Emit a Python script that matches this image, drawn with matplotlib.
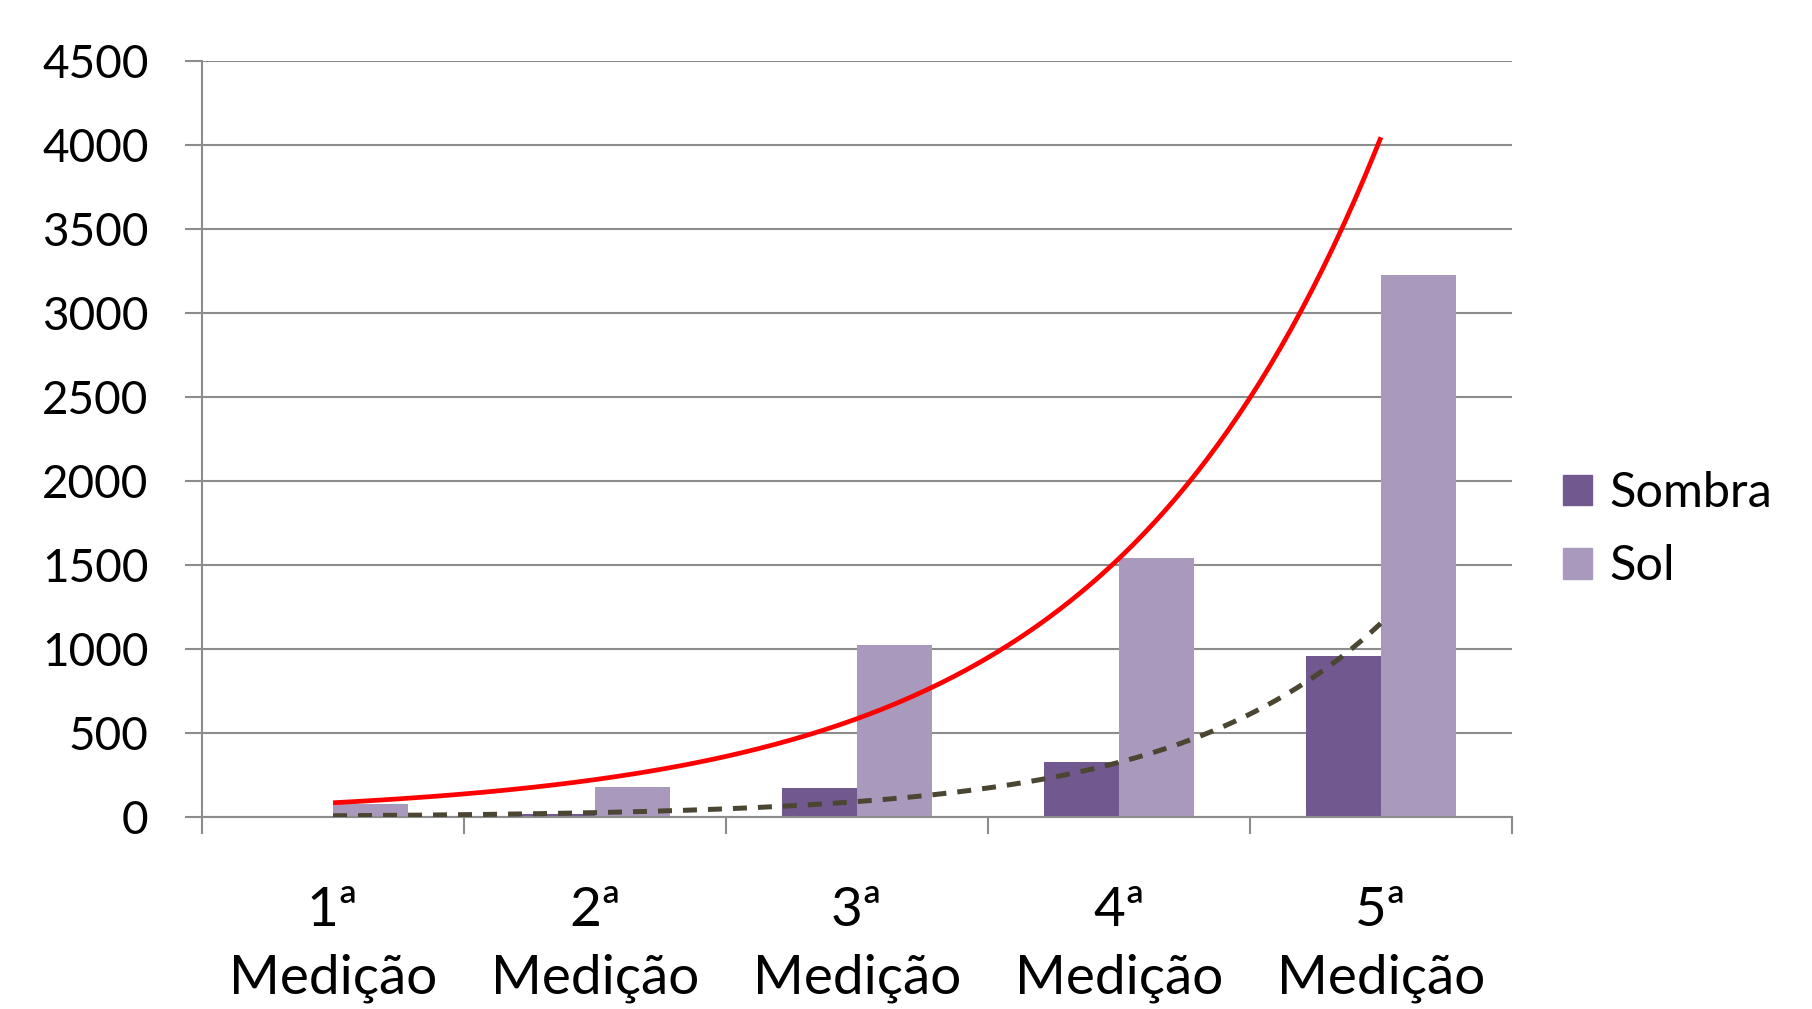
import numpy as np
import matplotlib
matplotlib.use("Agg")
import matplotlib.pyplot as plt
from matplotlib.patches import Patch
from matplotlib.ticker import FixedLocator, NullFormatter

plt.rcParams["font.family"] = ["Lato", "DejaVu Sans"]

# dados
categorias = ["1ª\nMedição", "2ª\nMedição", "3ª\nMedição", "4ª\nMedição", "5ª\nMedição"]
sombra = [8, 15, 172, 328, 960]
sol = [75, 180, 1025, 1540, 3225]
yticks = [0, 500, 1000, 1500, 2000, 2500, 3000, 3500, 4000, 4500]

cor_sombra = "#71588F"
cor_sol = "#A99ABD"
cinza = "#8C8C8C"

fig = plt.figure(figsize=(18.12, 10.09), dpi=100)
ax = fig.add_axes([0.1115, 0.1903, 0.7229, 0.7489])

x = np.arange(len(categorias))
w = 0.285
ax.bar(x - w / 2, sombra, w, color=cor_sombra, zorder=2, label="Sombra")
ax.bar(x + w / 2, sol, w, color=cor_sol, zorder=2, label="Sol")

# linhas de tendência exponenciais (como no Excel)
xs = np.linspace(0, len(categorias) - 1, 200)
b, a = np.polyfit(x + 1, np.log(sol), 1)
ax.plot(xs, np.exp(a + b * (xs + 1)), color="#FF0000", lw=3.4, zorder=4,
        solid_capstyle="butt")
b2, a2 = np.polyfit(x + 1, np.log(sombra), 1)
ax.plot(xs, np.exp(a2 + b2 * (xs + 1)), color="#4B4632", lw=3.6, zorder=4,
        linestyle=(0, (2.8, 2.2)), dash_capstyle="butt")

ax.set_xlim(-0.5, len(categorias) - 0.5)
ax.set_ylim(0, 4500)
ax.set_yticks(yticks)
ax.yaxis.grid(True, color=cinza, lw=1.5, zorder=0)
ax.set_axisbelow(True)

# ticks do eixo x nas divisões, rótulos no centro
ax.xaxis.set_major_locator(FixedLocator(np.arange(-0.5, len(categorias), 1.0)))
ax.xaxis.set_major_formatter(NullFormatter())
ax.xaxis.set_minor_locator(FixedLocator(x))
ax.set_xticklabels(categorias, minor=True, fontsize=39.5, linespacing=1.45)
ax.tick_params(axis="x", which="major", length=12.5, width=1.5, color=cinza)
ax.tick_params(axis="x", which="minor", length=0, pad=50)
ax.tick_params(axis="y", length=12.5, width=1.5, color=cinza, pad=26, labelsize=33)

ax.spines["right"].set_color("none")
ax.spines["top"].set_color("none")
ax.spines["left"].set_color(cinza)
ax.spines["bottom"].set_color(cinza)
ax.spines["left"].set_linewidth(1.5)
ax.spines["bottom"].set_linewidth(1.5)

handles = [Patch(color=cor_sombra), Patch(color=cor_sol)]
fig.legend(handles, ["Sombra", "Sol"], loc="center left",
           bbox_to_anchor=(0.849, 0.475), frameon=False, fontsize=35,
           handlelength=0.6, handleheight=0.6, handletextpad=0.35,
           labelspacing=0.6, borderpad=0)

fig.savefig("out.png", dpi=100)
